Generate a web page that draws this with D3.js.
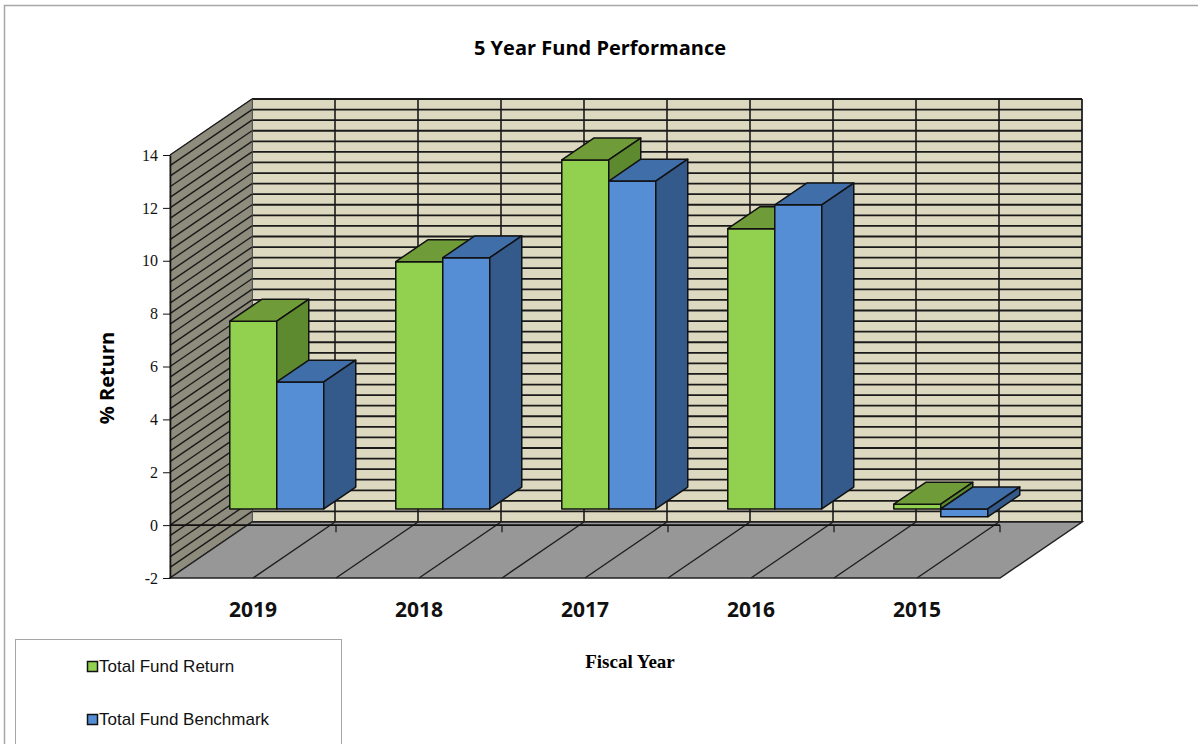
<!DOCTYPE html>
<html>
<head>
<meta charset="utf-8">
<script src="https://cdn.jsdelivr.net/npm/d3@7"></script>
<style>
  body { margin: 0; background: #fff; }
  svg { display: block; }
</style>
</head>
<body>
<div id="chart-area"></div>
<script>

// chart values
var years = ["2019", "2018", "2017", "2016", "2015"];
var series = ["Total Fund Return", "Total Fund Benchmark"];
var fundReturn = [7.1, 9.35, 13.2, 10.6, 0.18];
var fundBenchmark = [4.8, 9.5, 12.4, 11.5, -0.3];
var yDomain = [-2, 14];
var gridStep = 0.4;

var colors = {
  "Total Fund Return": { front: "#92d050", top: "#6f9c38", side: "#5e8a2f" },
  "Total Fund Benchmark": { front: "#558ed5", top: "#3f6ea9", side: "#34598b" }
};

var W = 1198, H = 744;
var svg = d3.select('#chart-area').append('svg')
            .attr("width", W)
            .attr("height", H);

// 3d depth offset of the box
var DX = 82, DY = -56;
var barFront = 0.29, barDepth = 0.39;

var x0 = d3.scaleBand().domain(years).range([170, 1000]);
var x1 = d3.scaleBand().domain(series).range([0, x0.bandwidth()]).paddingOuter(0.766);
var y = d3.scaleLinear().domain(yDomain).range([578, 155]);

function pt(px, v, d) { return [px + d * DX, y(v) + d * DY]; }
function poly(pts) { return pts.map(function(p) { return p.join(","); }).join(" "); }

// outer frame
svg.append("path").attr("d", "M4.5,744 L4.5,5.5 L1198,5.5")
   .attr("fill", "none").attr("stroke", "#a6a6a6").attr("stroke-width", 1.5);

svg.append("text").attr("x", 600).attr("y", 55)
   .attr("text-anchor", "middle")
   .attr("font-family", "'Open Sans', sans-serif").attr("font-weight", "bold")
   .attr("font-size", "20px").text("5 Year Fund Performance");

var chart = svg.append("g");
var xl = x0.range()[0], xr = x0.range()[1];
var gridVals = d3.range(yDomain[0], yDomain[1] + 1e-6, gridStep);
var halfStep = x0.bandwidth() / 2;
var vLines = d3.range(xl, xr + 1, halfStep);

// back wall
chart.append("polygon")
     .attr("points", poly([pt(xl, yDomain[0], 1), pt(xr, yDomain[0], 1), pt(xr, yDomain[1], 1), pt(xl, yDomain[1], 1)]))
     .attr("fill", "#ddd8c0").attr("stroke", "#555").attr("stroke-width", 1);

chart.selectAll(".hgrid").data(gridVals).enter().append("line")
     .attr("x1", pt(xl, 0, 1)[0]).attr("x2", pt(xr, 0, 1)[0])
     .attr("y1", function(d) { return pt(xl, d, 1)[1]; })
     .attr("y2", function(d) { return pt(xl, d, 1)[1]; })
     .attr("stroke", "#1a1a1a").attr("stroke-width", 1.8);

chart.selectAll(".vgrid").data(vLines).enter().append("line")
     .attr("x1", function(d) { return d + DX; }).attr("x2", function(d) { return d + DX; })
     .attr("y1", pt(xl, yDomain[1], 1)[1]).attr("y2", pt(xl, yDomain[0], 1)[1])
     .attr("stroke", "#1a1a1a").attr("stroke-width", 1.6);

// side wall
chart.append("polygon")
     .attr("points", poly([pt(xl, yDomain[0], 0), pt(xl, yDomain[0], 1), pt(xl, yDomain[1], 1), pt(xl, yDomain[1], 0)]))
     .attr("fill", "#8e8c7c").attr("stroke", "#777").attr("stroke-width", 1);

chart.selectAll(".sgrid").data(gridVals).enter().append("line")
     .attr("x1", xl).attr("x2", xl + DX)
     .attr("y1", function(d) { return y(d); })
     .attr("y2", function(d) { return y(d) + DY; })
     .attr("stroke", "#1a1a1a").attr("stroke-width", 1.4);

// floor
chart.append("polygon")
     .attr("points", poly([pt(xl, yDomain[0], 0), pt(xr, yDomain[0], 0), pt(xr, yDomain[0], 1), pt(xl, yDomain[0], 1)]))
     .attr("fill", "#979797").attr("stroke", "#222").attr("stroke-width", 1.5);

chart.selectAll(".fgrid").data(vLines.slice(1, -1)).enter().append("line")
     .attr("x1", function(d) { return d; }).attr("x2", function(d) { return d + DX; })
     .attr("y1", y(yDomain[0])).attr("y2", y(yDomain[0]) + DY)
     .attr("stroke", "#1e1e1e").attr("stroke-width", 1.4);

// category axis at zero
chart.append("line").attr("x1", xl).attr("x2", xr)
     .attr("y1", y(0)).attr("y2", y(0))
     .attr("stroke", "#111").attr("stroke-width", 1.6);
chart.selectAll(".ctick").data(years.map(function(d) { return x0(d) + x0.bandwidth(); }))
     .enter().append("line")
     .attr("x1", function(d) { return d; }).attr("x2", function(d) { return d; })
     .attr("y1", y(0)).attr("y2", y(0) + 7)
     .attr("stroke", "#111").attr("stroke-width", 1.2);

// value axis
var yAxis = d3.axisLeft(y).ticks(8).tickSizeInner(7).tickSizeOuter(0).tickPadding(5)
              .tickFormat(function(d) { return String(d); });
var ya = chart.append("g").attr("transform", "translate(" + xl + ",0)").call(yAxis);
ya.select(".domain").attr("stroke", "#111").attr("stroke-width", 1.6);
ya.selectAll(".tick line").attr("stroke", "#111");
ya.selectAll("text").attr("font-family", "'Liberation Serif', serif")
  .attr("font-size", "16px").attr("fill", "#111");

// bars
var barData = [];
years.forEach(function(yr, i) {
  barData.push({ year: yr, s: series[0], v: fundReturn[i] });
  barData.push({ year: yr, s: series[1], v: fundBenchmark[i] });
});

var bars = chart.selectAll(".bar").data(barData).enter().append("g").attr("class", "bar");
bars.each(function(d) {
  var g = d3.select(this);
  var left = x0(d.year) + x1(d.s), right = left + x1.bandwidth();
  var hi = Math.max(d.v, 0), lo = Math.min(d.v, 0);
  var f0 = barFront, f1 = barFront + barDepth;
  var c = colors[d.s];
  var st = { stroke: "#111", w: 1.5 };
  g.append("polygon")
   .attr("points", poly([pt(left, lo, f0), pt(right, lo, f0), pt(right, hi, f0), pt(left, hi, f0)]))
   .attr("fill", c.front).attr("stroke", st.stroke).attr("stroke-width", st.w).attr("stroke-linejoin", "round");
  g.append("polygon")
   .attr("points", poly([pt(left, hi, f0), pt(right, hi, f0), pt(right, hi, f1), pt(left, hi, f1)]))
   .attr("fill", c.top).attr("stroke", st.stroke).attr("stroke-width", st.w).attr("stroke-linejoin", "round");
  g.append("polygon")
   .attr("points", poly([pt(right, lo, f0), pt(right, lo, f1), pt(right, hi, f1), pt(right, hi, f0)]))
   .attr("fill", c.side).attr("stroke", st.stroke).attr("stroke-width", st.w).attr("stroke-linejoin", "round");
});

// category labels
chart.selectAll(".clabel").data(years).enter().append("text")
     .attr("x", function(d) { return x0(d) + x0.bandwidth() / 2; })
     .attr("y", 617)
     .attr("text-anchor", "middle")
     .attr("font-family", "'Open Sans', sans-serif").attr("font-weight", "bold")
     .attr("font-size", "21px").attr("fill", "#111")
     .text(function(d) { return d; });

svg.append("text").attr("transform", "translate(114,378) rotate(-90)")
   .attr("text-anchor", "middle")
   .attr("font-family", "'Open Sans', sans-serif").attr("font-weight", "bold")
   .attr("font-size", "20px").text("% Return");

svg.append("text").attr("x", 630).attr("y", 668)
   .attr("text-anchor", "middle")
   .attr("font-family", "'Liberation Serif', serif").attr("font-weight", "bold")
   .attr("font-size", "19px").text("Fiscal Year");

// legend
var legend = svg.append("g");
legend.append("rect").attr("x", 15.5).attr("y", 639.5).attr("width", 326).attr("height", 120)
      .attr("fill", "#fff").attr("stroke", "#a6a6a6").attr("stroke-width", 1);
var li = legend.selectAll(".item").data(series).enter().append("g")
      .attr("transform", function(d, i) { return "translate(87," + (661 + i * 53) + ")"; });
li.append("rect").attr("x", 0.5).attr("y", 0.5).attr("width", 10).attr("height", 10)
  .attr("fill", function(d) { return colors[d].front; })
  .attr("stroke", "#111").attr("stroke-width", 1.5);
li.append("text").attr("x", 12).attr("y", 11)
  .attr("font-family", "'Liberation Sans', Arial, sans-serif")
  .attr("font-size", "17px").attr("fill", "#111")
  .text(function(d) { return d; });

</script>
</body>
</html>
